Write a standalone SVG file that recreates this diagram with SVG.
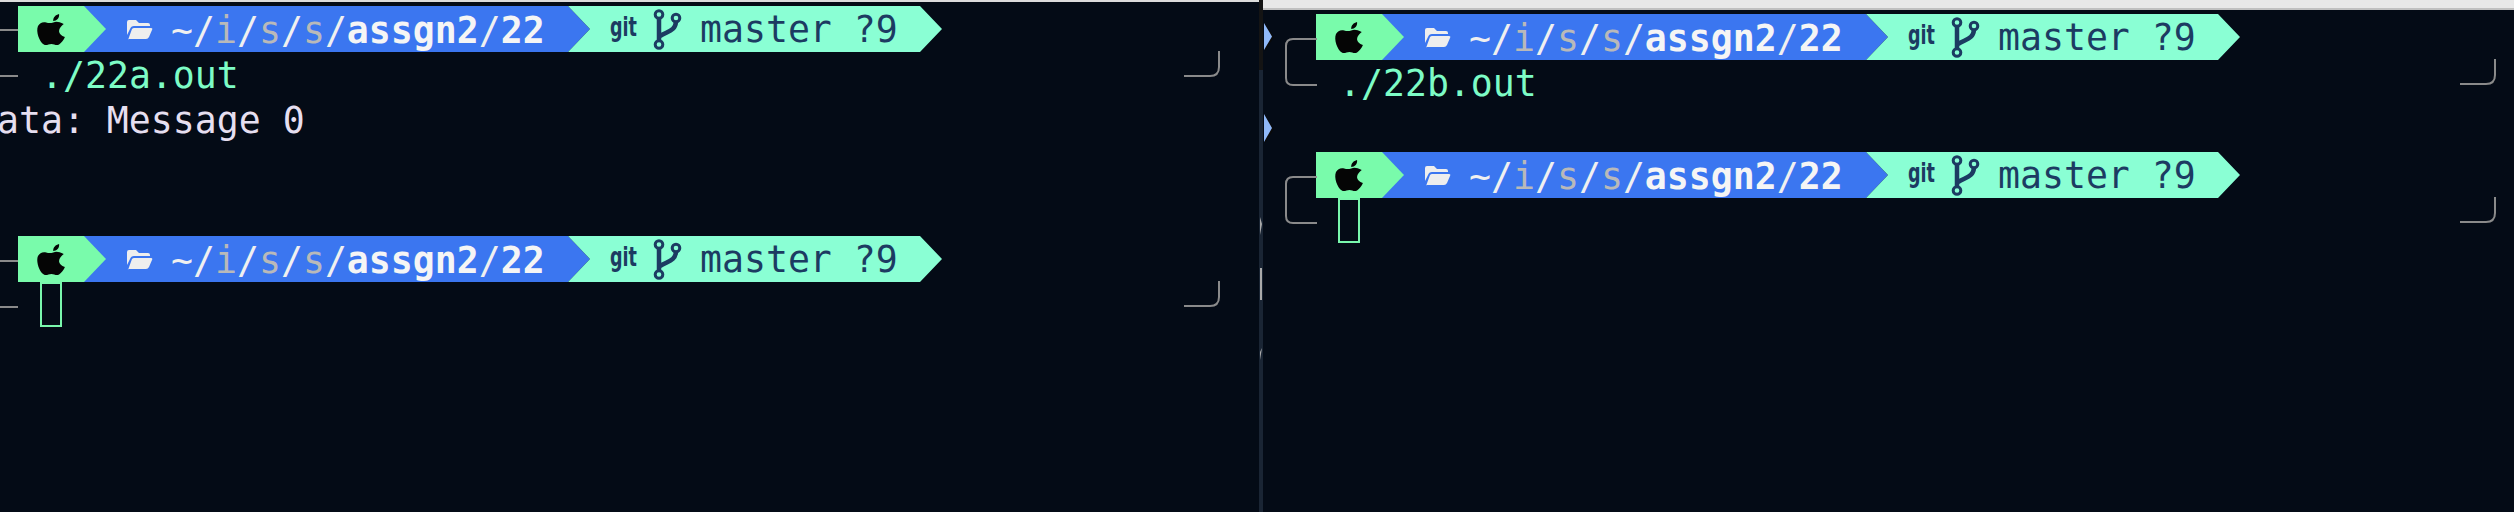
<svg xmlns="http://www.w3.org/2000/svg" width="2514" height="512" viewBox="0 0 2514 512">
<style>
.t{font-family:"DejaVu Sans Mono",monospace;font-size:36.5px}
.p{fill:#f0f0f0}.d{fill:#b9b9b9}.b{font-weight:700;fill:#f5f5f5}
.m{fill:#1c3b62}.c{fill:#7dfcc6}.w{fill:#e6dff0}
.g{font-family:"DejaVu Sans",sans-serif;font-weight:700;font-size:26px;fill:#1c3b62}
.l{fill:none;stroke:#8a8a8a;stroke-width:2}
.cur{fill:none;stroke:#79f7ac;stroke-width:2}
</style>
<defs>
<g id="prompt">
<path d="M18 0H568L590 23L568 46H18Z" fill="#3b76f0"/>
<path d="M568 0H920L942 23L920 46H568L590 23Z" fill="#8affd4"/>
<path d="M18 0H84L106 23L84 46H18Z" fill="#79fbab"/>
<path transform="translate(38 8) scale(1.17 1) translate(-37 -7)" d="M59 17C55 15 53 14 50 15.500C48 16.300 46 16.300 44 15.500C41 14.500 38.500 16 37 19C35 24 38 35 42 37.500C44 39 46 37 48.500 37C51 37 52.500 39 55 37.500C57 36 59 33 60 30C57 29 55 26.500 55 24C55 21 57 19 59 17ZM50 14C50 10 52 8 55 7C55.500 11 53 14 50 14Z" fill="#050505"/>
<path d="M127 24V11Q127 9 129 9H136L139 12H148Q150 12 150 14V15H134Q131 15 130 18ZM128 29L132 18Q133 17 134 17H151Q153 17 152 19L149 26Q148 28 146 28H129Q127.500 28 128 29Z" fill="#eeeeee" transform="translate(0 5)"/>
<text class="t" x="171" y="37"><tspan class="p">~/</tspan><tspan class="d">i</tspan><tspan class="p">/</tspan><tspan class="d">s</tspan><tspan class="p">/</tspan><tspan class="d">s</tspan><tspan class="p">/</tspan><tspan class="b">assgn2</tspan><tspan class="p">/</tspan><tspan class="b">22</tspan></text>
<text class="g" x="610" y="30" textLength="27" lengthAdjust="spacingAndGlyphs">git</text>
<g fill="none" stroke="#1c3b62" stroke-width="3"><circle cx="659" cy="8.500" r="3.800"/><circle cx="676" cy="12" r="3.800"/><circle cx="659" cy="38.500" r="3.800"/><path d="M659 12V35M676 16C675 25 668 25 660 30" stroke-width="4.500"/></g>
<text class="t m" x="700" y="36">master ?9</text>
</g>
<path id="rc" class="l" d="M0 24H26Q35 24 35 15V-1"/>
<path id="lc" class="l" d="M32 0H8Q1 0 1 7V39Q1 46 8 46H32"/>
</defs>
<rect width="2514" height="512" fill="#040b16"/>
<g id="left-window">
<rect width="1259" height="2" fill="#dcdcdc"/>
<use id="prompt-a1" href="#prompt" y="6"/>
<use id="prompt-a2" href="#prompt" y="236"/>
<path class="l" d="M0 30H18M0 76H18M0 261H18M0 307H18"/>
<use href="#rc" x="1184" y="52"/>
<use href="#rc" x="1184" y="282"/>
<text class="t c" x="41" y="88">./22a.out</text>
<text class="t w" x="-3" y="133">ata: Message 0</text>
<rect class="cur" x="41" y="283" width="20" height="43"/>
</g>
<g id="right-window">
<rect x="1262" width="1252" height="9" fill="#e8e8e8"/>
<rect x="1262" y="8" width="1252" height="2" fill="#c0c0c0"/>
<rect x="1259" y="0" width="4" height="70" fill="#141414"/>
<rect x="1259" y="70" width="4" height="442" fill="#1a2534"/>
<rect x="1260" y="268" width="2" height="32" fill="#aaaaaa"/>
<path d="M1260 217L1262 224L1260 235ZM1262 348L1260 352V360Z" fill="#aaaaaa"/>
<path d="M1265 24L1274 37L1265 51ZM1265 115L1274 129L1265 143Z" fill="#0a0a0a"/>
<path d="M1264 23L1272 36.500L1264 50ZM1264 114L1272 128L1264 142Z" fill="#8fb8f8"/>
<use id="prompt-b1" href="#prompt" x="1298" y="14"/>
<use id="prompt-b2" href="#prompt" x="1298" y="152"/>
<use href="#lc" x="1285" y="39"/>
<use href="#lc" x="1285" y="177"/>
<use href="#rc" x="2460" y="60"/>
<use href="#rc" x="2460" y="198"/>
<text class="t c" x="1339" y="96">./22b.out</text>
<rect class="cur" x="1339" y="199" width="20" height="43"/>
</g>
</svg>
